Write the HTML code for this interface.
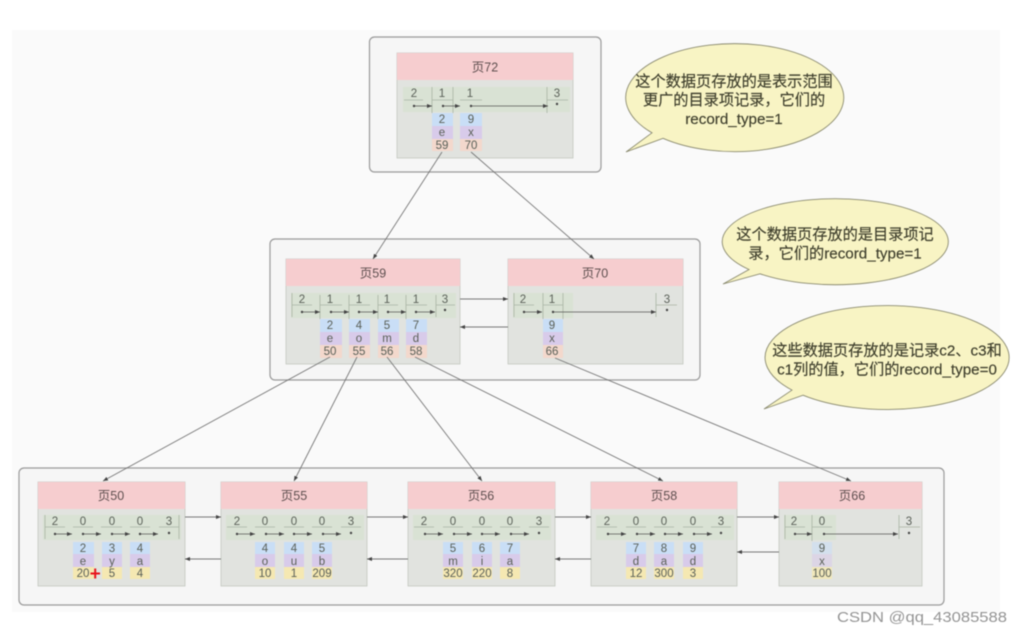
<!DOCTYPE html>
<html lang="zh"><head><meta charset="utf-8"><title>B+树页结构</title>
<style>
html,body{margin:0;padding:0;background:#fff;width:1022px;height:635px;overflow:hidden}
svg{display:block;filter:blur(.6px)}
text{font-family:"Liberation Sans","Noto Sans CJK SC",sans-serif;text-anchor:middle}
.n{font-size:11.5px;fill:#5a6058}
.h{font-size:12.5px;fill:#5f5050}
.c{font-size:15.2px;fill:#3e3e2c;stroke:#3e3e2c;stroke-width:.15}
.g{fill:#f6f6f6;stroke:#9a9a9a;stroke-width:1.2}
.p{fill:#e1e3df;stroke:#c4c8c0;stroke-width:.8}
.t{fill:#f6cdcf}
.s{fill:#d6e2d0}
.u{stroke:#a9b4a4;stroke-width:.8;fill:none}
.l{stroke:#555;stroke-width:.8;fill:none;marker-end:url(#a)}
.k{stroke:#777;stroke-width:.9;fill:none;marker-end:url(#a)}
.b{fill:#c9def6}.v{fill:#d8cbea}.r{fill:#f3d8cc}.y{fill:#f5e8b2}
.e{fill:#f8f4c4;stroke:#8b8b70;stroke-width:.9}
.d{fill:#444}
</style></head><body>
<svg width="1022" height="635" viewBox="0 0 1022 635" xmlns="http://www.w3.org/2000/svg">
<defs><marker id="a" markerWidth="6" markerHeight="6" refX="5" refY="2.5" orient="auto" markerUnits="userSpaceOnUse"><path d="M0,0.5L5,2.5L0,4.5Z" fill="#444"/></marker></defs>
<rect x="12" y="30" width="988" height="582" fill="#fafafa"/>

<!-- groups -->
<rect class="g" x="369.500" y="37" width="231.500" height="135" rx="5"/>
<rect class="g" x="270" y="239" width="430" height="141" rx="5"/>
<rect class="g" x="19" y="468" width="925" height="137" rx="5"/>

<!-- page 72 -->
<rect class="p" x="397" y="53" width="176" height="105"/>
<rect class="t" x="397" y="53" width="176" height="27"/>
<text class="h" x="485" y="71.500">页72</text>
<rect class="s" x="403" y="87" width="167" height="25" opacity=".75"/>
<path class="u" d="M404 100H423M432 100H453M460 100H482M547 100H568M432 87V113M453 87V113M547 87V113"/>
<text class="n" x="414" y="97">2</text><text class="n" x="442" y="97">1</text><text class="n" x="470" y="97">1</text><text class="n" x="557" y="97">3</text>
<path class="l" d="M414 106H432"/><path class="l" d="M443 106H460"/><path class="l" d="M471 106H548"/>
<circle class="d" cx="414" cy="106" r="1.200"/><circle class="d" cx="443" cy="106" r="1.200"/><circle class="d" cx="471" cy="106" r="1.200"/><circle class="d" cx="557" cy="104" r="1.200"/>
<rect class="b" x="432" y="113" width="21" height="13"/><rect class="v" x="432" y="126" width="21" height="13"/><rect class="r" x="432" y="139" width="21" height="12"/>
<rect class="b" x="460" y="113" width="22" height="13"/><rect class="v" x="460" y="126" width="22" height="13"/><rect class="r" x="460" y="139" width="22" height="12"/>
<text class="n" x="442" y="123">2</text><text class="n" x="442" y="136">e</text><text class="n" x="442" y="149">59</text>
<text class="n" x="471" y="123">9</text><text class="n" x="471" y="136">x</text><text class="n" x="471" y="149">70</text>

<!-- page 59 -->
<rect class="p" x="286" y="259" width="174" height="105"/>
<rect class="t" x="286" y="259" width="174" height="27"/>
<text class="h" x="373" y="277.500">页59</text>
<rect class="s" x="291" y="293" width="165" height="25" opacity=".75"/>
<path class="u" d="M292 305H312M320 305H342M349 305H370M378 305H398M406 305H427M436 305H455M292 293V317M320 295V319M349 295V319M378 295V319M406 295V319M436 295V317"/>
<text class="n" x="302" y="303">2</text><text class="n" x="330" y="303">1</text><text class="n" x="359" y="303">1</text><text class="n" x="387" y="303">1</text><text class="n" x="416" y="303">1</text><text class="n" x="445" y="303">3</text>
<path class="l" d="M302 312H320"/><path class="l" d="M331 312H349"/><path class="l" d="M359 312H378"/><path class="l" d="M388 312H406"/><path class="l" d="M416 312H435"/>
<circle class="d" cx="302" cy="312" r="1.200"/><circle class="d" cx="331" cy="312" r="1.200"/><circle class="d" cx="359" cy="312" r="1.200"/><circle class="d" cx="388" cy="312" r="1.200"/><circle class="d" cx="416" cy="312" r="1.200"/><circle class="d" cx="445" cy="310" r="1.200"/>
<rect class="b" x="320" y="319" width="22" height="13"/><rect class="v" x="320" y="332" width="22" height="13"/><rect class="r" x="320" y="345" width="22" height="13"/>
<rect class="b" x="349" y="319" width="21" height="13"/><rect class="v" x="349" y="332" width="21" height="13"/><rect class="r" x="349" y="345" width="21" height="13"/>
<rect class="b" x="378" y="319" width="21" height="13"/><rect class="v" x="378" y="332" width="21" height="13"/><rect class="r" x="378" y="345" width="21" height="13"/>
<rect class="b" x="406" y="319" width="21" height="13"/><rect class="v" x="406" y="332" width="21" height="13"/><rect class="r" x="406" y="345" width="21" height="13"/>
<text class="n" x="330" y="329">2</text><text class="n" x="330" y="342">e</text><text class="n" x="330" y="355">50</text>
<text class="n" x="359" y="329">4</text><text class="n" x="359" y="342">o</text><text class="n" x="359" y="355">55</text>
<text class="n" x="387" y="329">5</text><text class="n" x="387" y="342">m</text><text class="n" x="387" y="355">56</text>
<text class="n" x="416" y="329">7</text><text class="n" x="416" y="342">d</text><text class="n" x="416" y="355">58</text>

<!-- page 70 -->
<rect class="p" x="508" y="259" width="175" height="105"/>
<rect class="t" x="508" y="259" width="175" height="27"/>
<text class="h" x="595" y="277.500">页70</text>
<rect class="s" x="513" y="293" width="60" height="25" opacity=".75"/>
<path class="u" d="M514 305H534M543 305H563M656 305H677M514 293V317M543 293V319M563 293V319M656 293V317"/>
<text class="n" x="523" y="303">2</text><text class="n" x="552" y="303">1</text><text class="n" x="667" y="303">3</text>
<path class="l" d="M524 312H542"/><path class="l" d="M553 312H656"/>
<circle class="d" cx="524" cy="312" r="1.200"/><circle class="d" cx="553" cy="312" r="1.200"/><circle class="d" cx="667" cy="310" r="1.200"/>
<rect class="b" x="543" y="319" width="20" height="13"/><rect class="v" x="543" y="332" width="20" height="13"/><rect class="r" x="543" y="345" width="20" height="13"/>
<text class="n" x="552" y="329">9</text><text class="n" x="552" y="342">x</text><text class="n" x="552" y="355">66</text>
<path class="k" d="M460 299H508"/><path class="k" d="M508 327H460"/>

<!-- leaf pages -->
<rect class="p" x="38" y="482" width="147" height="104"/><rect class="t" x="38" y="482" width="147" height="27"/>
<rect class="p" x="221" y="482" width="146" height="104"/><rect class="t" x="221" y="482" width="146" height="27"/>
<rect class="p" x="408" y="482" width="147" height="104"/><rect class="t" x="408" y="482" width="147" height="27"/>
<rect class="p" x="591" y="482" width="146" height="104"/><rect class="t" x="591" y="482" width="146" height="27"/>
<rect class="p" x="779" y="482" width="143" height="104"/><rect class="t" x="779" y="482" width="143" height="27"/>
<text class="h" x="111" y="500">页50</text><text class="h" x="294" y="500">页55</text><text class="h" x="481" y="500">页56</text><text class="h" x="664" y="500">页58</text><text class="h" x="852" y="500">页66</text>
<rect class="s" x="43" y="515" width="138" height="25" opacity=".75"/><rect class="s" x="226" y="515" width="138" height="25" opacity=".75"/><rect class="s" x="413" y="515" width="138" height="25" opacity=".75"/><rect class="s" x="596" y="515" width="138" height="25" opacity=".75"/><rect class="s" x="784" y="515" width="52" height="25" opacity=".75"/>
<path class="u" d="M45 527H65M73 527H93M101 527H122M130 527H150M159 527H179M45 515V539M179 515V539M227 527H247M255 527H275M284 527H304M312 527H332M341 527H361M414 527H434M443 527H463M472 527H492M500 527H520M529 527H549M597 527H617M626 527H646M654 527H674M683 527H703M711 527H731M785 527H805M812 527H832M899 527H920M785 515V539M812 515V541M899 515V539"/>
<!-- leaf numbers -->
<text class="n" x="55" y="525">2</text><text class="n" x="83" y="525">0</text><text class="n" x="112" y="525">0</text><text class="n" x="140" y="525">0</text><text class="n" x="169" y="525">3</text>
<text class="n" x="237" y="525">2</text><text class="n" x="265" y="525">0</text><text class="n" x="294" y="525">0</text><text class="n" x="322" y="525">0</text><text class="n" x="351" y="525">3</text>
<text class="n" x="424" y="525">2</text><text class="n" x="453" y="525">0</text><text class="n" x="482" y="525">0</text><text class="n" x="510" y="525">0</text><text class="n" x="539" y="525">3</text>
<text class="n" x="607" y="525">2</text><text class="n" x="636" y="525">0</text><text class="n" x="664" y="525">0</text><text class="n" x="693" y="525">0</text><text class="n" x="721" y="525">3</text>
<text class="n" x="794" y="525">2</text><text class="n" x="822" y="525">0</text><text class="n" x="909" y="525">3</text>
<!-- leaf chains -->
<path class="l" d="M55 534H72"/><path class="l" d="M83 534H101"/><path class="l" d="M112 534H130"/><path class="l" d="M140 534H158"/>
<path class="l" d="M237 534H255"/><path class="l" d="M266 534H284"/><path class="l" d="M294 534H312"/><path class="l" d="M323 534H341"/>
<path class="l" d="M425 534H443"/><path class="l" d="M454 534H472"/><path class="l" d="M482 534H500"/><path class="l" d="M511 534H529"/>
<path class="l" d="M608 534H626"/><path class="l" d="M637 534H655"/><path class="l" d="M665 534H683"/><path class="l" d="M694 534H712"/>
<path class="l" d="M795 534H812"/><path class="l" d="M824 534H898"/>
<g class="d"><circle cx="55" cy="534" r="1.200"/><circle cx="83" cy="534" r="1.200"/><circle cx="112" cy="534" r="1.200"/><circle cx="140" cy="534" r="1.200"/><circle cx="169" cy="533" r="1.200"/><circle cx="237" cy="534" r="1.200"/><circle cx="266" cy="534" r="1.200"/><circle cx="294" cy="534" r="1.200"/><circle cx="323" cy="534" r="1.200"/><circle cx="351" cy="533" r="1.200"/><circle cx="425" cy="534" r="1.200"/><circle cx="454" cy="534" r="1.200"/><circle cx="482" cy="534" r="1.200"/><circle cx="511" cy="534" r="1.200"/><circle cx="539" cy="533" r="1.200"/><circle cx="608" cy="534" r="1.200"/><circle cx="637" cy="534" r="1.200"/><circle cx="665" cy="534" r="1.200"/><circle cx="694" cy="534" r="1.200"/><circle cx="721" cy="533" r="1.200"/><circle cx="795" cy="534" r="1.200"/><circle cx="824" cy="534" r="1.200"/><circle cx="909" cy="533" r="1.200"/></g>
<!-- leaf record cells -->
<g class="b"><rect x="73" y="542" width="21" height="12"/><rect x="102" y="542" width="20" height="12"/><rect x="130" y="542" width="20" height="12"/><rect x="255" y="542" width="20" height="12"/><rect x="284" y="542" width="20" height="12"/><rect x="312" y="542" width="20" height="12"/><rect x="443" y="542" width="20" height="12"/><rect x="472" y="542" width="20" height="12"/><rect x="500" y="542" width="20" height="12"/><rect x="626" y="542" width="20" height="12"/><rect x="654" y="542" width="20" height="12"/><rect x="683" y="542" width="20" height="12"/><rect x="812" y="542" width="20" height="12" opacity=".6"/></g>
<g class="v"><rect x="73" y="554" width="21" height="13"/><rect x="102" y="554" width="20" height="13"/><rect x="130" y="554" width="20" height="13"/><rect x="255" y="554" width="20" height="13"/><rect x="284" y="554" width="20" height="13"/><rect x="312" y="554" width="20" height="13"/><rect x="443" y="554" width="20" height="13"/><rect x="472" y="554" width="20" height="13"/><rect x="500" y="554" width="20" height="13"/><rect x="626" y="554" width="20" height="13"/><rect x="654" y="554" width="20" height="13"/><rect x="683" y="554" width="20" height="13"/><rect x="812" y="554" width="20" height="13" opacity=".6"/></g>
<g class="y"><rect x="73" y="567" width="21" height="12"/><rect x="102" y="567" width="20" height="12"/><rect x="130" y="567" width="20" height="12"/><rect x="255" y="567" width="20" height="12"/><rect x="284" y="567" width="20" height="12"/><rect x="312" y="567" width="20" height="12"/><rect x="443" y="567" width="20" height="12"/><rect x="472" y="567" width="20" height="12"/><rect x="500" y="567" width="20" height="12"/><rect x="626" y="567" width="20" height="12"/><rect x="654" y="567" width="20" height="12"/><rect x="683" y="567" width="20" height="12"/><rect x="812" y="567" width="20" height="12" opacity=".8"/></g>
<text class="n" x="83" y="552">2</text><text class="n" x="83" y="565">e</text><text class="n" x="83" y="577">20</text>
<text class="n" x="112" y="552">3</text><text class="n" x="112" y="565">y</text><text class="n" x="112" y="577">5</text>
<text class="n" x="140" y="552">4</text><text class="n" x="140" y="565">a</text><text class="n" x="140" y="577">4</text>
<text class="n" x="265" y="552">4</text><text class="n" x="265" y="565">o</text><text class="n" x="265" y="577">10</text>
<text class="n" x="294" y="552">4</text><text class="n" x="294" y="565">u</text><text class="n" x="294" y="577">1</text>
<text class="n" x="322" y="552">5</text><text class="n" x="322" y="565">b</text><text class="n" x="322" y="577">209</text>
<text class="n" x="453" y="552">5</text><text class="n" x="453" y="565">m</text><text class="n" x="453" y="577">320</text>
<text class="n" x="482" y="552">6</text><text class="n" x="482" y="565">i</text><text class="n" x="482" y="577">220</text>
<text class="n" x="510" y="552">7</text><text class="n" x="510" y="565">a</text><text class="n" x="510" y="577">8</text>
<text class="n" x="636" y="552">7</text><text class="n" x="636" y="565">d</text><text class="n" x="636" y="577">12</text>
<text class="n" x="664" y="552">8</text><text class="n" x="664" y="565">a</text><text class="n" x="664" y="577">300</text>
<text class="n" x="693" y="552">9</text><text class="n" x="693" y="565">d</text><text class="n" x="693" y="577">3</text>
<text class="n" x="822" y="552">9</text><text class="n" x="822" y="565">x</text><text class="n" x="822" y="577">100</text>
<path d="M90.500 573.500H100M95.200 568.500V578.500" stroke="#e8131a" stroke-width="2" fill="none"/>
<!-- leaf page links -->
<path class="k" d="M185 517H221"/><path class="k" d="M367 517H408"/><path class="k" d="M555 517H591"/><path class="k" d="M737 517H779"/>
<path class="k" d="M221 559H185"/><path class="k" d="M408 559H367"/><path class="k" d="M591 559H555"/><path class="k" d="M779 552H737"/>

<!-- tree connectors -->
<path class="k" d="M442 152L373 259"/><path class="k" d="M471 152L594 259"/>
<path class="k" d="M330 357L103 481"/><path class="k" d="M357 357L294 481"/><path class="k" d="M387 357L482 481"/><path class="k" d="M415 357L663 481"/><path class="k" d="M555 358L851 481"/>

<!-- callouts -->
<path class="e" d="M652 132.800A109 54 0 1 1 663 138.300L626 152Z"/>
<text class="c" x="734" y="86.500">这个数据页存放的是表示范围</text>
<text class="c" x="734" y="105">更广的目录项记录，它们的</text>
<text class="c" x="734" y="124">record_type=1</text>
<path class="e" d="M749 269.500A113 43 0 1 1 760 273.800L723 284Z"/>
<text class="c" x="835" y="239.500">这个数据页存放的是目录项记</text>
<text class="c" x="835" y="258.500">录，它们的record_type=1</text>
<path class="e" d="M792 390.100A122 52 0 1 1 803 395.200L764 409Z"/>
<text class="c" x="887" y="355.500">这些数据页存放的是记录c2、c3和</text>
<text class="c" x="887" y="374.500">c1列的值，它们的record_type=0</text>

<text x="922" y="622" style="font-size:15px;fill:#949494" textLength="170" lengthAdjust="spacingAndGlyphs">CSDN @qq_43085588</text>
</svg>
</body></html>
